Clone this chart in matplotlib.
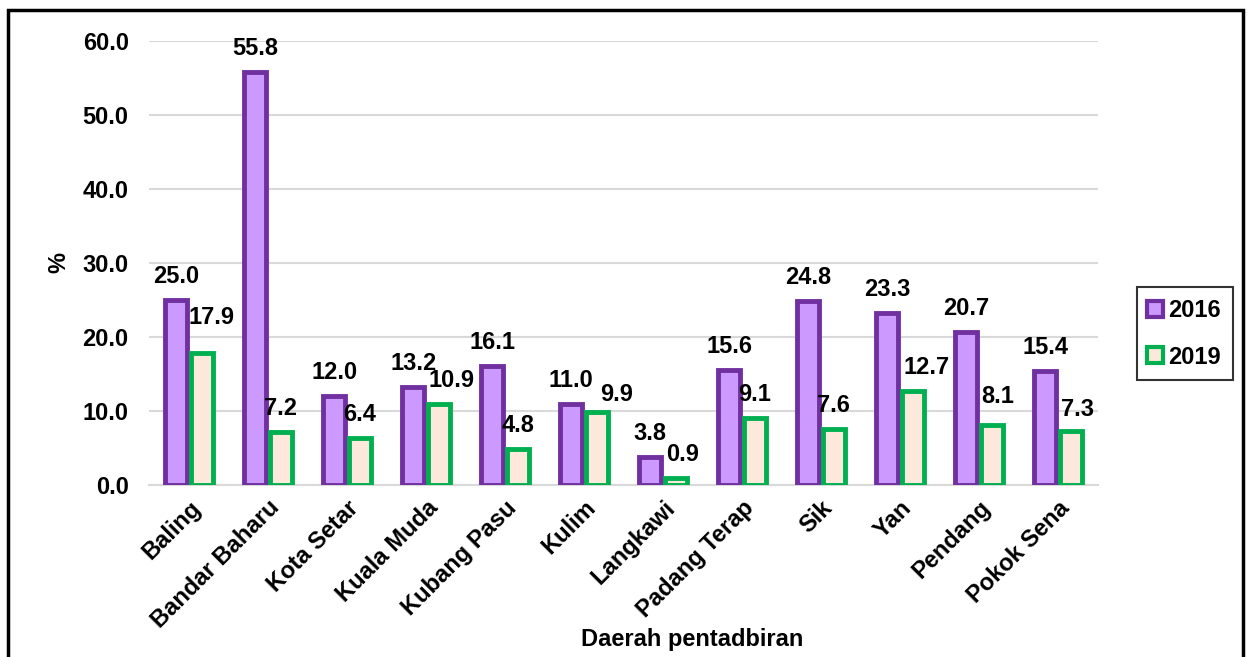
import matplotlib.pyplot as plt
import numpy as np
from matplotlib.patches import Rectangle
from matplotlib.lines import Line2D

plt.rcParams['font.family'] = ['Liberation Sans', 'DejaVu Sans']
plt.rcParams['font.weight'] = 'bold'

daerah = ['Baling', 'Bandar Baharu', 'Kota Setar', 'Kuala Muda', 'Kubang Pasu',
          'Kulim', 'Langkawi', 'Padang Terap', 'Sik', 'Yan', 'Pendang', 'Pokok Sena']
v2016 = [25.0, 55.8, 12.0, 13.2, 16.1, 11.0, 3.8, 15.6, 24.8, 23.3, 20.7, 15.4]
v2019 = [17.9, 7.2, 6.4, 10.9, 4.8, 9.9, 0.9, 9.1, 7.6, 12.7, 8.1, 7.3]

# nudges (pixels) of the 2019 labels, as placed by hand in the original
lab_dx = [10, 0, 0, 13, 0, 20, 7, 0, 0, 14, 6, 7]
lab_dy = [12, 0, 0, 0, 0, -6, 0, 0, 0, 0, 5, -2]

fig = plt.figure(figsize=(12.51, 6.57), dpi=100)
ax = fig.add_axes([0.1195, 0.2618, 0.7578, 0.6758])

x = np.arange(len(daerah))
w = 0.28
off = w / 2 + 0.02
ax.bar(x - off, v2016, w, color='#cc99ff', edgecolor='#7030a0', linewidth=3.5, zorder=3)
ax.bar(x + off, v2019, w, color='#fce9dc', edgecolor='#00b050', linewidth=3.5, zorder=3)

for xi, v in zip(x, v2016):
    ax.annotate(f'{v:.1f}', (xi - off, v), xytext=(0, 12), textcoords='offset pixels',
                ha='center', va='bottom', fontsize=17, fontweight='bold')
for xi, v, dx, dy in zip(x, v2019, lab_dx, lab_dy):
    ax.annotate(f'{v:.1f}', (xi + off, v), xytext=(dx, 12 + dy), textcoords='offset pixels',
                ha='center', va='bottom', fontsize=17, fontweight='bold')

ax.set_xlim(-0.5, len(daerah) - 0.5)
ax.set_ylim(0, 60)
yt = np.arange(0, 61, 10)
ax.set_yticks(yt)
ax.set_yticklabels([f'{t:.1f}' for t in yt], fontsize=17, fontweight='bold')
ax.set_xticks(x)
ax.set_xticklabels(daerah, rotation=45, ha='right', rotation_mode='anchor', fontsize=17, fontweight='bold')
ax.tick_params(axis='y', length=0, pad=15)
ax.tick_params(axis='x', length=0, pad=8)
ax.grid(axis='y', color='#d9d9d9', linewidth=1.5, zorder=0)
for s in ['top', 'right', 'left']:
    ax.spines[s].set_visible(False)
ax.spines['bottom'].set_color('#d9d9d9')
ax.spines['bottom'].set_linewidth(1.5)

ax.set_ylabel('%', fontsize=17, fontweight='bold', labelpad=9)
ax.set_xlabel('Daerah pentadbiran', fontsize=17, fontweight='bold')
ax.xaxis.set_label_coords(0.572, -0.322)

handles = [Line2D([], [], marker='s', linestyle='none', markersize=11, markerfacecolor='#cc99ff',
                  markeredgecolor='#7030a0', markeredgewidth=3),
           Line2D([], [], marker='s', linestyle='none', markersize=11, markerfacecolor='#fce9dc',
                  markeredgecolor='#00b050', markeredgewidth=3)]
leg = fig.legend(handles, ['2016', '2019'], loc='center', bbox_to_anchor=(0.947, 0.492),
                 prop={'size': 17, 'weight': 'bold'}, frameon=True, fancybox=False,
                 edgecolor='black', handlelength=0.6, handletextpad=0.25, labelspacing=1.0,
                 borderpad=0.5, borderaxespad=0)
leg.get_frame().set_linewidth(1.5)

fig.patches.append(Rectangle((0.0065, -0.05), 0.987, 1.035, transform=fig.transFigure,
                             fill=False, edgecolor='black', linewidth=2.5))

fig.savefig('out.png', dpi=100)
